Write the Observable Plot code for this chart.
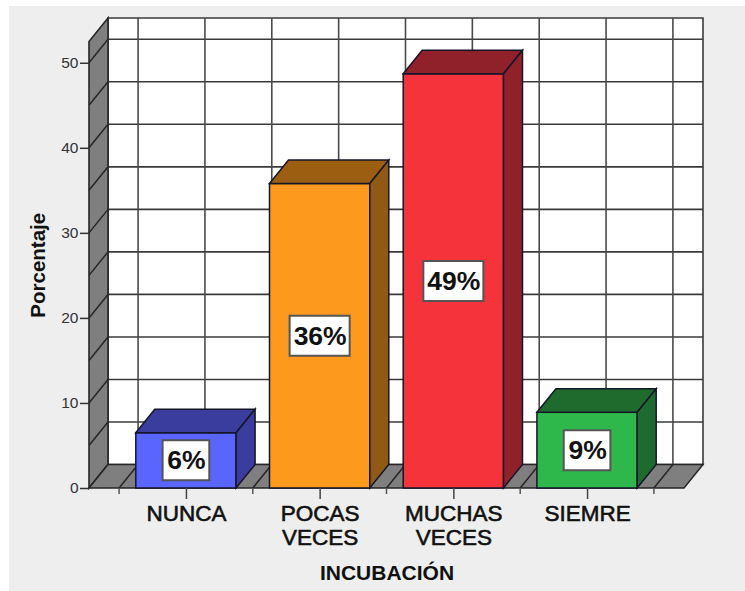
<!DOCTYPE html>
<html>
<head>
<meta charset="utf-8">
<script src="https://cdn.jsdelivr.net/npm/d3@7"></script>
<script src="https://cdn.jsdelivr.net/npm/@observablehq/plot@0.6"></script>
<style>
html, body { margin: 0; padding: 0; background: #ffffff; overflow: hidden; }
#panel { position: absolute; left: 9px; top: 6px; width: 736px; height: 585px; background: #eeeeee; }
#chart { position: absolute; left: 0; top: 0; }
#chart svg { background: transparent; font-family: "Liberation Sans", Arial, sans-serif; display: block; }
</style>
</head>
<body>
<div id="panel"></div>
<div id="chart"></div>
<script>
const categories = ["NUNCA", "POCAS\nVECES", "MUCHAS\nVECES", "SIEMRE"];
const percentages = [6.5, 35.8, 48.7, 8.9];
const barLabels = ["6%", "36%", "49%", "9%"];
const frontColors = ["#5a64ff", "#fd991c", "#f4333b", "#2eb84c"];
const sideColors = ["#3a3d9e", "#8f5a14", "#90202a", "#1d6b2e"];
const topColors = ["#3a3d9e", "#9c5f12", "#90202a", "#1f6b2e"];
const yTicks = [0, 10, 20, 30, 40, 50];
const gridValues = [0, 5, 10, 15, 20, 25, 30, 35, 40, 45, 50];
const yMax = 52.5;

const rows = categories.map((c, i) => ({c, v: percentages[i], label: barLabels[i], i}));
const depthX = 19, depthY = -23.5;
const ink = "#2e2e2e";

// A mark that draws polygons and lines located through the chart's own scales.
const drawn = (fn) => (index, scales) => {
  const g = d3.create("svg:g");
  const add = (pts, attrs) => {
    const p = g.append("path").attr("d", "M" + pts.map((q) => q.join(",")).join("L") + (attrs.fill ? "Z" : ""));
    p.attr("fill", attrs.fill || "none")
     .attr("stroke", attrs.stroke || ink)
     .attr("stroke-width", attrs.width ?? 1.5)
     .attr("stroke-linejoin", "miter");
  };
  fn(scales, add);
  return g.node();
};

// category-band boundaries: the tick positions of the floor, spaced half a band step
const floorStops = ({x}) => {
  const step = x(categories[1]) - x(categories[0]);
  const c0 = x(categories[0]) + x.bandwidth() / 2;
  return d3.range(-1, 8).map((k) => c0 + k * step / 2);
};

const walls = drawn((s, add) => {
  const {x, y} = s;
  const [x0, x1] = x.range();
  const y0 = y(0), yTop = y(yMax);
  // back wall
  add([[x0 + depthX, yTop + depthY], [x1 + depthX, yTop + depthY], [x1 + depthX, y0 + depthY], [x0 + depthX, y0 + depthY]], {fill: "#ffffff", stroke: "#3a3a3a", width: 1.6});
  for (const v of gridValues.slice(1)) add([[x0 + depthX, y(v) + depthY], [x1 + depthX, y(v) + depthY]], {stroke: "#3a3a3a", width: 1.6});
  for (const px of floorStops(s)) add([[px + depthX, yTop + depthY], [px + depthX, y0 + depthY]], {stroke: "#4a4a4a", width: 1.6});
  // left wall
  add([[x0, y0], [x0 + depthX, y0 + depthY], [x0 + depthX, yTop + depthY], [x0, yTop]], {fill: "#7f7f7f", stroke: "#262626", width: 1.6});
  for (const v of gridValues) add([[x0, y(v)], [x0 + depthX, y(v) + depthY]], {stroke: "#262626", width: 1.5});
  // floor
  add([[x0, y0], [x1, y0], [x1 + depthX, y0 + depthY], [x0 + depthX, y0 + depthY]], {fill: "#7f7f7f", stroke: "#262626", width: 1.5});
  for (const px of floorStops(s)) add([[px, y0], [px + depthX, y0 + depthY]], {stroke: "#262626", width: 1.5});
  // minor ticks below the floor edge
  floorStops(s).forEach((px, k) => { if (k % 2 === 0) add([[px, y0], [px, y0 + 6]], {stroke: "#555555", width: 1.5}); });
});

const barFaces = drawn(({x, y}, add) => {
  rows.forEach((d) => {
    const l = x(d.c), r = l + x.bandwidth(), t = y(d.v), b = y(0);
    add([[l, t], [l + depthX, t + depthY], [r + depthX, t + depthY], [r, t]], {fill: topColors[d.i], stroke: "#15152a", width: 1.5});
    add([[r, t], [r + depthX, t + depthY], [r + depthX, b + depthY], [r, b]], {fill: sideColors[d.i], stroke: "#15152a", width: 1.5});
  });
});

const labelBoxes = drawn(({x, y}, add) => {
  rows.forEach((d) => {
    const cx = x(d.c) + x.bandwidth() / 2, cy = y(d.v / 2);
    const w = ((d.label.length - 1) * 0.556 + 0.889) * 24 + 12, h = 40;
    add([[cx - w / 2, cy - h / 2], [cx + w / 2, cy - h / 2], [cx + w / 2, cy + h / 2], [cx - w / 2, cy + h / 2]], {fill: "#ffffff", stroke: "#555555", width: 2});
  });
});

const chart = Plot.plot({
  width: 745,
  height: 591,
  marginLeft: 89,
  marginRight: 61,
  marginTop: 41.5,
  marginBottom: 103,
  x: {type: "band", domain: categories, paddingInner: 0.25, paddingOuter: 0.35, align: 0.5, round: false},
  y: {domain: [0, yMax]},
  color: {domain: categories, range: frontColors},
  marks: [
    walls,
    Plot.barY(rows, {x: "c", y: "v", fill: "c", stroke: "#15152a", strokeWidth: 1.5}),
    barFaces,
    labelBoxes,
    Plot.text(rows, {
      x: "c",
      y: (d) => d.v / 2,
      text: "label",
      fontSize: 26.5,
      fontWeight: "bold",
      fill: "#111111",
      lineAnchor: "middle"
    }),
    Plot.axisY({
      ticks: yTicks,
      tickSize: 9,
      tickPadding: 2,
      label: null,
      fontSize: 15.5,
      stroke: "#333333",
      strokeWidth: 1.5,
      fill: "#333333"
    }),
    Plot.axisX({
      tickSize: 11,
      tickPadding: 5,
      label: null,
      fontSize: 22.5,
      lineHeight: 1.05,
      stroke: "#444444",
      strokeWidth: 1.5,
      fill: "#111111",
      textStroke: "#111111",
      textStrokeWidth: 0.6
    }),
    Plot.text(["Porcentaje"], {
      frameAnchor: "left",
      textAnchor: "middle",
      rotate: -90,
      dx: -51,
      fontSize: 20.5,
      fontWeight: "bold",
      fill: "#111111"
    }),
    Plot.text(["INCUBACIÓN"], {
      frameAnchor: "bottom",
      dy: 85,
      fontSize: 21,
      fontWeight: "bold",
      fill: "#111111",
      lineAnchor: "middle"
    })
  ]
});
document.getElementById("chart").appendChild(chart);
</script>
</body>
</html>
